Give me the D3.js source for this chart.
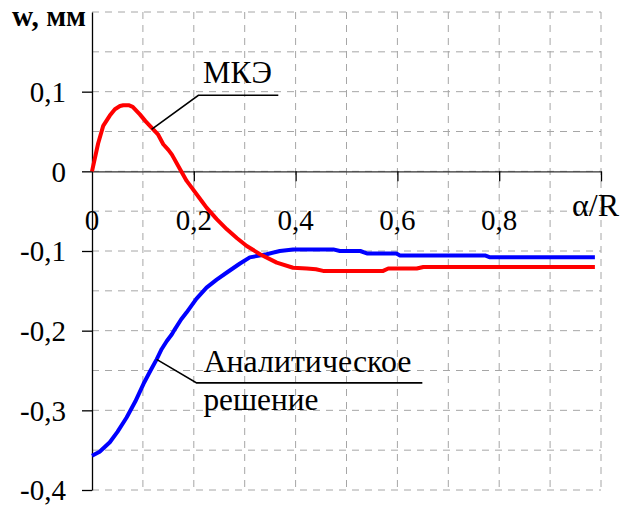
<!DOCTYPE html>
<html>
<head>
<meta charset="utf-8">
<script src="https://cdn.jsdelivr.net/npm/d3@7"></script>
<style>
  body { margin: 0; background: #fff; }
</style>
</head>
<body>
<div id="chart"></div>
<script>
// Data (alpha/R -> w, mm)
const femX = [0, 0.012, 0.022, 0.035, 0.045, 0.055, 0.0615, 0.072, 0.08, 0.094, 0.105, 0.117, 0.13, 0.14, 0.15, 0.157, 0.173, 0.186, 0.193, 0.215, 0.225, 0.245, 0.265, 0.285, 0.304, 0.33, 0.363, 0.395, 0.422, 0.44, 0.454, 0.572, 0.582, 0.638, 0.651, 0.988];
const femY = [0, 0.035, 0.057, 0.07, 0.078, 0.082, 0.083, 0.083, 0.081, 0.0715, 0.063, 0.055, 0.046, 0.034, 0.027, 0.021, 0.0025, -0.012, -0.018, -0.037, -0.0455, -0.06, -0.0728, -0.084, -0.0937, -0.104, -0.1146, -0.121, -0.122, -0.123, -0.125, -0.125, -0.122, -0.122, -0.12, -0.12];

const anaX = [0, 0.015, 0.035, 0.05, 0.068, 0.085, 0.101, 0.115, 0.127, 0.137, 0.147, 0.157, 0.163, 0.175, 0.186, 0.205, 0.225, 0.245, 0.265, 0.29, 0.31, 0.343, 0.369, 0.395, 0.474, 0.487, 0.527, 0.54, 0.598, 0.605, 0.772, 0.782, 0.988];
const anaY = [-0.357, -0.352, -0.34, -0.327, -0.309, -0.289, -0.267, -0.25, -0.236, -0.223, -0.213, -0.2045, -0.198, -0.186, -0.177, -0.16, -0.146, -0.136, -0.127, -0.116, -0.108, -0.104, -0.1, -0.098, -0.098, -0.1, -0.1, -0.103, -0.103, -0.1055, -0.1055, -0.108, -0.108];

const xTickValues = [0, 0.2, 0.4, 0.6, 0.8];
const xTickLabels = ["0", "0,2", "0,4", "0,6", "0,8"];
const yTickValues = [0.1, 0, -0.1, -0.2, -0.3, -0.4];
const yTickLabels = ["0,1", "0", "-0,1", "-0,2", "-0,3", "-0,4"];

const width = 622, height = 506;
const fontSize = 29;
const serif = "Liberation Serif";

const svg = d3.select("#chart").append("svg")
  .attr("width", width)
  .attr("height", height)
  .style("display", "block");

const x = d3.scaleLinear().domain([0, 1]).range([92, 601]);
const y = d3.scaleLinear().domain([-0.4, 0.2]).range([490, 12]);

// the original uses Times; shrink/grow a label so it keeps the original's width
function fitText(sel, targetWidth) {
  const w = sel.node().getComputedTextLength();
  if (w > 0) sel.attr("font-size", fontSize * targetWidth / w);
  return sel;
}

// dashed grid
const grid = svg.append("g").attr("stroke", "#a6a6a6").attr("stroke-width", 1)
  .attr("stroke-dasharray", "7,6").attr("fill", "none");
grid.selectAll(".vgrid")
  .data(d3.range(1, 11).map(i => i / 10))
  .join("line")
    .attr("x1", d => x(d)).attr("x2", d => x(d))
    .attr("y1", y(0.2)).attr("y2", y(-0.4));
grid.selectAll(".hgrid")
  .data(d3.range(-8, 5).map(i => i / 20))
  .join("line")
    .attr("x1", x(0)).attr("x2", x(1))
    .attr("y1", d => y(d)).attr("y2", d => y(d));

// y axis
const yAxis = svg.append("g")
  .attr("transform", `translate(${x(0)},0)`)
  .call(d3.axisLeft(y)
    .tickValues(yTickValues)
    .tickSize(10)
    .tickSizeOuter(0)
    .tickPadding(16)
    .tickFormat((d, i) => yTickLabels[i]));
yAxis.select(".domain").attr("stroke", "#000").attr("stroke-width", 1.3);
yAxis.selectAll(".tick line").attr("stroke", "#000").attr("stroke-width", 1.3);
yAxis.selectAll(".tick text")
  .attr("fill", "#000")
  .attr("dy", "0.34em")
  .attr("font-family", serif)
  .attr("font-size", fontSize);

// x axis (through zero)
const xAxis = svg.append("g")
  .attr("transform", `translate(0,${y(0)})`)
  .call(d3.axisBottom(x)
    .tickValues([0.2, 0.4, 0.6, 0.8, 1])
    .tickSize(10)
    .tickSizeOuter(0)
    .tickFormat(""));
xAxis.select(".domain").attr("stroke", "#333").attr("stroke-width", 1.3);
xAxis.selectAll(".tick line").attr("stroke", "#000").attr("stroke-width", 1.3);

svg.append("g").selectAll("text")
  .data(xTickValues)
  .join("text")
    .attr("x", d => x(d))
    .attr("y", y(0) + 59)
    .attr("text-anchor", "middle")
    .attr("font-family", serif)
    .attr("font-size", fontSize)
    .text((d, i) => xTickLabels[i]);

// axis titles
fitText(svg.append("text")
  .attr("x", 12).attr("y", 26)
  .attr("font-family", serif)
  .attr("font-size", fontSize)
  .attr("font-weight", "bold")
  .text("w, мм"), 74);
fitText(svg.append("text")
  .attr("x", 572).attr("y", 216)
  .attr("font-family", serif)
  .attr("font-size", fontSize)
  .text("α/R"), 47);

// curves
const line = d3.line().x(d => x(d[0])).y(d => y(d[1]));
const femData = femX.map((v, i) => [v, femY[i]]);
const anaData = anaX.map((v, i) => [v, anaY[i]]);

svg.append("path")
  .datum(anaData)
  .attr("fill", "none")
  .attr("stroke", "#0000ff")
  .attr("stroke-width", 4)
  .attr("stroke-linejoin", "round")
  .attr("d", line);

svg.append("path")
  .datum(femData)
  .attr("fill", "none")
  .attr("stroke", "#ff0000")
  .attr("stroke-width", 4)
  .attr("stroke-linejoin", "round")
  .attr("d", line);

// leader lines and annotations
svg.append("path")
  .datum([[0.117, 0.0527], [0.209, 0.0955], [0.366, 0.0955]])
  .attr("fill", "none").attr("stroke", "#000").attr("stroke-width", 1.6)
  .attr("d", line);
fitText(svg.append("text")
  .attr("x", x(0.218)).attr("y", y(0.111))
  .attr("font-family", serif)
  .attr("font-size", fontSize)
  .text("МКЭ"), 69);

svg.append("path")
  .datum([[0.127, -0.236], [0.2055, -0.2655], [0.649, -0.2655]])
  .attr("fill", "none").attr("stroke", "#000").attr("stroke-width", 1.6)
  .attr("d", line);
fitText(svg.append("text")
  .attr("x", x(0.219)).attr("y", y(-0.252))
  .attr("font-family", serif)
  .attr("font-size", fontSize)
  .text("Аналитическое"), 208);
fitText(svg.append("text")
  .attr("x", x(0.219)).attr("y", y(-0.3))
  .attr("font-family", serif)
  .attr("font-size", fontSize)
  .text("решение"), 115);
</script>
</body>
</html>
